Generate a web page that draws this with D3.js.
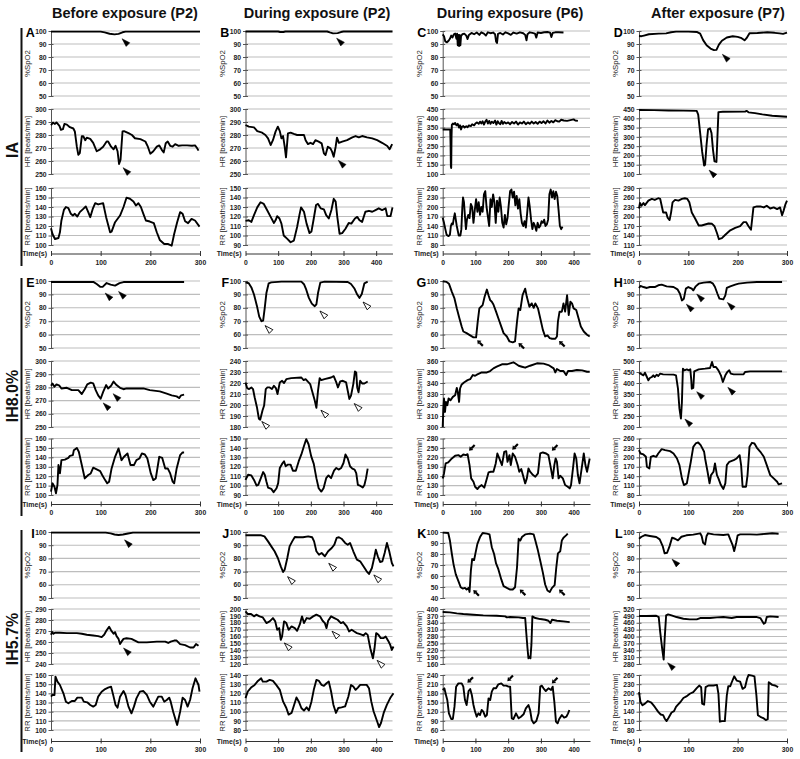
<!DOCTYPE html>
<html><head><meta charset="utf-8">
<script src="https://cdn.jsdelivr.net/npm/d3@7"></script>
<style>body{margin:0;background:#fff}svg{display:block;font-family:"Liberation Sans",Arial,sans-serif}</style>
</head><body>
<script>
// ---------- labels ----------
const columnTitles = ["Before exposure (P2)", "During exposure (P2)", "During exposure (P6)", "After exposure (P7)"];
const rowTitles = ["IA", "IH8.0%", "IH5.7%"];
const panelLetters = ["A","B","C","D","E","F","G","H","I","J","K","L"];
const subTitles = ["%SpO2", "HR [beats/min]", "RR [breaths/min]"];
const xMaxByColumn = [300, 450, 450, 300];
const xTicksByColumn = [[0,100,200,300],[0,100,200,300,400],[0,100,200,300,400],[0,100,200,300]];
// y axis [min, max, step] for SpO2, HR, RR of each panel
const yAxesA = [[50,100,10],[250,300,10],[100,160,10]];
const yAxesB = [[50,100,10],[250,300,10],[90,150,10]];
const yAxesC = [[50,100,10],[100,450,50],[80,260,30]];
const yAxesD = [[50,100,10],[100,450,50],[110,290,30]];
const yAxesE = [[50,100,10],[250,300,10],[100,160,10]];
const yAxesF = [[50,100,10],[180,240,10],[90,150,10]];
const yAxesG = [[50,100,10],[300,360,10],[100,280,30]];
const yAxesH = [[50,100,10],[200,500,50],[80,260,30]];
const yAxesI = [[50,100,10],[240,290,10],[100,160,10]];
const yAxesJ = [[50,100,10],[120,200,10],[80,140,10]];
const yAxesK = [[40,100,10],[160,400,30],[60,240,30]];
const yAxesL = [[50,100,10],[280,520,30],[80,260,30]];

// ---------- series [time s, value] ----------
const A_SpO2 = [[0,99.5],[100,99.5],[108,98.9],[118,97.9],[128,97.4],[136,97.8],[144,99],[150,99.5],[300,99.5]];
const A_HR = [[0,287.5],[4,289.5],[8,288.5],[11,289.7],[17,287],[20,284],[24,284.5],[27,288.5],[32,288],[38,286],[45,285],[48,282.7],[52,271],[55,264.8],[58,266],[62,279],[65,279],[69,276],[72,278],[79,277],[85,274],[92,267.5],[99,269],[105,271],[112,275],[115,275],[121,271],[126,269],[130,271.7],[134,267.5],[137,257.7],[140,261],[144,282.7],[147,283],[156,281.4],[163,280],[169,277.5],[180,276.8],[190,275],[195,271],[200,265.6],[206,267.5],[213,271],[218,272],[223,268.6],[227,266.6],[231,273.7],[235,275],[240,271.7],[245,271],[250,273],[257,271.7],[264,272],[274,272],[284,271.7],[290,272],[294,270],[297,268]];
const A_RR = [[0,117.6],[3,111.6],[8,106.3],[15,107.4],[18,113.4],[21,125.8],[26,137],[30,140],[35,138.8],[40,132.8],[44,131],[48,132.8],[53,130],[58,134.6],[65,138],[70,140.6],[75,134.6],[79,129.3],[84,138],[89,144],[95,142.7],[105,144],[111,129.3],[119,113.4],[122,114],[129,124],[139,131],[146,140],[152,149.8],[159,148.7],[166,145.9],[171,141.6],[176,144],[181,140],[186,132.8],[191,125.8],[199,124.7],[207,123],[213,113.4],[219,105.3],[228,101],[236,101],[243,99.3],[248,111.6],[254,124],[260,134.6],[265,132.8],[270,125],[276,123],[283,127.5],[290,125.8],[299,119.4]];

const B_SpO2 = [[0,99.6],[100,99.6],[106,99.2],[116,99.2],[122,99.6],[250,99.6],[258,98.9],[268,98.2],[282,98.4],[292,99.2],[300,99.6],[450,99.6]];
const B_HR = [[0,287.7],[10,286.4],[26,285.9],[36,283],[51,281.8],[61,280],[69,277.4],[77,272.3],[84,276],[92,282.6],[99,286.4],[105,283],[110,277.4],[115,279.2],[120,271],[124,262.8],[130,281.3],[138,281.8],[148,280.8],[158,280],[179,280],[184,276],[191,273],[199,274],[207,273],[214,276],[224,274.9],[233,273.6],[240,265.9],[245,264.6],[252,271],[260,269.7],[265,267.2],[270,263.3],[276,271],[280,278],[286,274],[296,274.9],[311,276],[327,278.2],[337,279.2],[347,278.2],[357,279.2],[372,278.2],[388,277.4],[403,276],[418,274],[434,271.5],[441,269],[449,273]];
const B_RR = [[0,115.4],[10,116],[18,114.3],[26,121.4],[36,129.6],[46,135],[56,133.2],[66,126.8],[77,119.6],[87,113.2],[92,116],[97,120.4],[104,117.9],[110,112.5],[117,100],[128,96.4],[138,92.9],[148,94.6],[158,108.9],[165,121.4],[170,129.6],[179,125],[187,112.5],[196,102.5],[202,104.3],[209,117.9],[216,132.1],[222,133.2],[230,128.6],[240,127.5],[247,121.4],[255,117.9],[263,126.8],[270,138.6],[276,135.7],[281,119.6],[288,101.8],[296,102.5],[306,107.1],[316,113.2],[324,112.5],[335,117.9],[342,119.6],[349,116],[357,114.3],[367,125],[378,126],[388,125],[398,126.8],[408,128.6],[418,126.8],[429,128.6],[434,120.4],[444,120.4],[450,129.6]];

const C_SpO2 = [[0,97.4],[4,96],[8,92],[13,91.3],[18,92.5],[22,94],[26,96.5],[30,95],[34,97.5],[38,98],[42,94],[44,98],[46,89],[48,97],[50,88.5],[52,97],[54,89],[56,96],[60,97.5],[66,98],[72,96.5],[76,93.8],[80,97],[88,98.5],[96,97.5],[104,98.8],[112,97],[118,99],[126,98],[132,96.5],[138,99],[146,98.3],[154,98.8],[160,97.5],[163,92],[166,90.8],[169,97.8],[176,98.5],[184,97.3],[192,99],[200,98.2],[208,97],[216,98.8],[226,98],[236,99],[246,98.3],[252,97],[256,92.8],[259,97.5],[266,99],[274,98.5],[282,98],[286,94.9],[290,98.8],[300,98.5],[310,99],[320,99.2],[328,98.8],[332,95.4],[336,98.5],[344,99],[354,99],[369,98.8]];
const C_HR = [[0,340],[23,340],[24,260],[25,140],[26,132],[27,300],[28,365],[31,372],[34,368],[38,375],[42,362],[46,370],[50,350],[53,362],[56,340],[59,355],[63,358],[67,350],[72,357],[76,352],[80,362],[86,358],[90,368],[96,362],[100,372],[105,378],[110,370],[114,382],[118,372],[122,384],[126,366],[130,382],[134,392],[138,372],[142,386],[146,370],[150,382],[155,374],[160,388],[164,366],[168,384],[172,374],[176,368],[180,386],[184,370],[188,380],[194,372],[200,378],[206,368],[212,380],[218,372],[224,382],[230,366],[236,378],[242,372],[248,382],[254,368],[260,378],[266,370],[272,382],[278,372],[284,380],[290,370],[296,382],[302,374],[308,384],[314,372],[320,388],[326,376],[332,386],[338,378],[344,390],[350,384],[356,382],[362,392],[370,388],[380,386],[390,390],[400,394],[405,388],[413,386]];
const C_RR = [[0,166],[4,150],[8,130],[12,112],[18,108],[22,112],[25,140],[28,148],[31,145],[34,165],[37,180],[40,160],[43,140],[46,125],[49,110],[54,110],[57,130],[60,200],[62,230],[65,215],[68,170],[71,130],[74,160],[78,175],[82,165],[86,210],[90,200],[94,150],[98,190],[102,225],[106,185],[110,215],[114,175],[118,200],[122,185],[126,240],[130,250],[134,200],[138,170],[142,140],[146,225],[150,200],[154,240],[158,215],[162,150],[166,220],[170,185],[174,230],[178,200],[182,150],[186,135],[190,175],[194,145],[198,165],[202,210],[206,250],[210,255],[214,230],[218,248],[222,205],[226,235],[230,195],[234,225],[238,180],[242,150],[246,140],[250,155],[254,135],[258,180],[262,230],[266,200],[270,160],[274,130],[278,150],[282,140],[286,125],[290,150],[294,135],[298,140],[302,155],[306,150],[310,160],[314,140],[318,145],[322,160],[326,240],[330,255],[334,230],[338,250],[342,225],[346,248],[350,235],[354,190],[358,140],[362,130],[366,138]];

const D_SpO2 = [[0,96.2],[5,96],[10,96.5],[20,97.5],[40,98],[55,98.2],[65,99],[75,99.5],[100,99.5],[118,99.2],[124,98],[130,93],[137,89],[145,86.5],[152,85.3],[157,85.5],[162,89.5],[168,92.5],[178,95],[190,96],[200,95.5],[208,94.5],[214,92.8],[218,94.5],[224,98.3],[240,98.5],[260,99],[275,98.6],[285,98.2],[292,97.8],[300,98.8]];
const D_HR = [[0,445],[30,444],[60,442],[90,441],[117,440],[120,420],[124,320],[128,220],[132,145],[134,150],[137,260],[140,340],[144,346],[147,320],[150,230],[153,168],[157,165],[159,300],[161,433],[170,435],[215,436],[218,440],[222,432],[235,428],[250,421],[270,414],[300,408]];
const D_RR = [[0,225.3],[2,242.6],[5,234],[9,242.6],[12,236],[19,250],[26,255.5],[32,252.3],[39,257.7],[43,255.5],[46,234],[49,212.4],[55,212.4],[58,196.2],[62,188.7],[65,212.4],[68,244.7],[73,252.3],[80,250],[87,255.5],[93,257.7],[98,255.5],[102,244.7],[107,212.4],[114,193],[121,171.5],[127,171.5],[134,174.7],[141,177.9],[148,176.9],[153,169.3],[158,147.8],[162,128.4],[168,131.6],[175,142.4],[185,156.4],[195,164],[205,169.3],[212,182.3],[217,182.3],[222,169.3],[227,158.5],[232,228.6],[239,231.8],[246,231.8],[253,228.6],[259,234],[266,225.3],[273,228.6],[280,223.2],[286,228.6],[290,203.9],[293,217.8],[297,239.3],[300,250]];

const E_SpO2 = [[0,99.2],[86,99.2],[92,97.8],[99,95.7],[104,95.6],[112,98.5],[120,97.3],[129,96.6],[138,98.4],[146,99.2],[268,99.2]];
const E_HR = [[0,281.3],[3,283],[7,280.5],[11,282.3],[17,281.3],[21,279.2],[32,279.7],[42,277.9],[55,277.9],[62,275],[68,278.6],[73,282.3],[80,283.6],[85,283],[90,277.9],[95,274],[100,271.4],[105,276.6],[111,281.8],[115,279.2],[121,281.3],[126,284.4],[132,281.8],[139,279.7],[146,278.6],[152,279.2],[186,279.2],[199,277.9],[219,277],[233,275.3],[243,274],[253,273.2],[258,271.9],[262,274],[268,274.5]];
const E_RR = [[0,103.5],[3,112.4],[7,108.8],[10,101.8],[13,110.6],[15,131.8],[18,123],[21,137],[28,137.6],[35,139.4],[38,141.6],[44,142.4],[46,147.6],[52,150],[56,145.9],[62,131.8],[68,117.6],[75,121.2],[80,122.9],[85,129],[92,127.2],[99,125.4],[103,121.2],[109,115.8],[113,112.4],[117,114.1],[122,128.2],[129,140.6],[136,149.4],[142,137],[147,140.6],[154,144.1],[160,131.8],[167,131.8],[172,137],[178,138.8],[183,144.1],[189,143],[194,138.8],[201,122.9],[206,115.8],[211,117.6],[218,140.6],[224,139.4],[230,128.2],[235,128.2],[240,122.9],[245,114.1],[248,112.4],[253,128.2],[260,142.4],[265,145.2],[268,145.2]];

const F_SpO2 = [[0,99],[10,98.3],[18,95.2],[26,89.9],[35,81.4],[42,73.4],[49,70],[54,70.5],[59,80.2],[64,91],[71,98.3],[79,99],[110,99.5],[171,99.5],[179,97.6],[186,93.5],[194,87.4],[203,83.1],[212,81.2],[217,82.6],[222,91],[229,98.8],[242,99.5],[313,99.3],[323,97.8],[334,94.2],[342,89.9],[349,87.4],[356,90.3],[364,98.3],[374,99.5]];
const F_HR = [[0,220.5],[5,215.4],[11,214.5],[18,216],[23,214.5],[28,207],[35,198],[41,187.5],[45,186.6],[52,195],[57,199.5],[62,214.5],[67,216],[74,216],[81,214.5],[87,217.5],[93,215.4],[98,210],[105,220.5],[112,222],[118,220],[125,223.5],[140,224.4],[171,225],[178,222.6],[184,223.5],[191,221.2],[198,219],[203,213.6],[212,204],[217,197.4],[222,213],[227,224.4],[232,222.6],[242,223.5],[262,225],[270,226.2],[278,220.5],[283,216],[290,221.5],[298,222],[308,220.5],[313,213],[318,205.5],[323,208.5],[330,219],[335,230.4],[339,229.5],[342,216],[346,211.5],[351,222],[357,219.6],[364,219.6],[374,221.4]];
const F_RR = [[0,106],[8,111.5],[18,110.8],[26,106],[34,100],[39,100.7],[47,107.9],[54,114.4],[59,111.5],[64,104.3],[69,97.9],[79,96.5],[86,92.9],[95,97.2],[100,102.6],[105,118.7],[112,123],[118,125.9],[123,120.5],[130,122.3],[138,122.3],[145,115.8],[154,115.8],[163,125.9],[171,133.1],[179,142],[186,149.3],[193,143.9],[201,131.3],[209,123],[217,107.9],[224,97.2],[232,93.6],[239,97.2],[247,107.9],[254,110.8],[262,107.9],[271,115.8],[278,118.7],[285,117],[293,118.7],[300,124],[306,133.1],[313,128.8],[320,120.5],[327,118],[334,117],[339,113.3],[344,100.7],[352,99.6],[359,97.9],[364,100.7],[369,107.9],[374,118]];

const G_SpO2 = [[0,99.8],[12,99.3],[19,98],[28,91.9],[36,87],[43,79.6],[51,72.2],[58,66],[63,62.3],[73,61.1],[84,59.4],[94,57.9],[102,57.9],[107,69.7],[112,79.6],[117,80.8],[122,82],[128,88.2],[135,93.6],[140,89.4],[145,85.7],[150,84.5],[155,82.5],[163,77.1],[170,72.2],[179,66],[186,61.1],[196,58.6],[204,54.9],[214,54.2],[221,54.9],[227,69.7],[232,79.6],[237,78.3],[244,89.4],[252,94.3],[257,88.2],[265,80.8],[272,83.3],[278,80],[283,83.3],[291,79.6],[298,72.2],[306,63.5],[313,58.6],[320,59.4],[327,57.4],[334,56.9],[344,56.9],[349,58.6],[352,69.7],[357,77.1],[364,77.1],[369,83.3],[374,77.1],[380,89.4],[385,74.6],[390,84.5],[395,83.3],[400,79.6],[408,78.3],[415,72.2],[422,66],[431,62.3],[441,59.9],[449,58.6]];
const G_HR = [[0,300],[2,316.7],[4,325.9],[7,313.7],[10,322.8],[14,319.8],[18,325.9],[24,324.3],[31,327.4],[38,328.9],[43,335.6],[46,332],[50,322.8],[53,335],[58,338.7],[65,340.5],[76,342.6],[84,343.5],[92,347.2],[99,346.6],[106,347.8],[119,349.6],[135,349.6],[145,350.9],[155,353.3],[165,354.8],[181,357],[196,357],[206,357.9],[216,358.8],[221,357.9],[232,355.7],[242,354.8],[252,353.9],[267,355.7],[288,357.9],[308,357.6],[323,356.3],[339,353.3],[344,349.6],[349,352.7],[359,350.9],[369,350.9],[377,347.2],[383,350.9],[395,350.9],[410,351.8],[426,351.5],[441,350.2],[449,350.2]];
const G_RR = [[0,152.9],[4,168.8],[9,200.6],[17,203.7],[28,216.4],[38,224.9],[48,227],[55,221.7],[63,229.1],[71,227],[76,230.2],[82,195.3],[87,152.9],[94,142.3],[99,126.4],[106,119],[112,126.4],[119,131.7],[127,123.3],[135,152.9],[140,172],[147,174.1],[155,174.1],[162,200.6],[167,232.3],[173,216.4],[181,195.3],[188,237.6],[194,239.7],[198,205.9],[204,227],[208,195.3],[214,232.3],[221,221.7],[229,195.3],[234,174.1],[240,182.6],[245,163.6],[252,137],[257,152.9],[262,184.7],[267,174.1],[276,163.6],[283,158.2],[291,168.8],[298,232.3],[306,235.5],[316,232.3],[323,227],[331,182.6],[336,152.9],[341,195.3],[345,216.4],[349,205.9],[354,152.9],[359,161.3],[367,152.9],[374,131.7],[382,126.4],[388,121.1],[392,131.7],[398,184.7],[403,232.3],[408,216.4],[413,163.6],[418,137],[426,195.3],[431,232.3],[436,195.3],[441,174.1],[449,216.4]];

const H_SpO2 = [[0,94.8],[3,96.3],[9,95.5],[16,94.8],[22,95.5],[32,95.5],[39,96.8],[46,97.3],[56,96],[70,95.5],[78,93.8],[83,90.5],[87,85.5],[91,86.8],[95,94.3],[100,95.5],[107,94.3],[110,93],[115,96],[121,98],[131,98.8],[144,99.3],[150,98],[154,95.5],[159,90.5],[163,86.8],[171,86.3],[175,89.3],[178,94.8],[185,96],[195,97.3],[202,98],[219,98.8],[239,99.3],[290,99.3]];
const H_HR = [[0,445.5],[3,442.4],[9,434.8],[12,447],[16,427.3],[19,412.1],[22,422.7],[26,427.3],[29,434.8],[32,427.3],[36,437.9],[39,431.8],[43,442.4],[49,439.4],[70,437.9],[75,434.8],[79,374.2],[82,283.3],[85,237.9],[87,313.6],[89,465.2],[92,457.6],[97,462.1],[101,457.6],[104,462.1],[106,412.1],[107,374.2],[110,377.3],[112,453],[121,462.1],[134,465.2],[144,468.2],[148,495.5],[151,472.7],[156,472.7],[161,457.6],[166,434.8],[170,404.5],[175,434.8],[179,450],[183,457.6],[186,442.4],[192,439.4],[202,439.4],[212,439.4],[215,450],[225,453],[239,453],[290,453]];
const H_RR = [[0,222.9],[3,212.3],[9,209.2],[14,201.7],[16,170],[21,164.7],[24,201.7],[29,204.9],[35,201.7],[39,212.3],[46,226.1],[53,222.9],[63,219.7],[70,212.3],[77,196.4],[82,175.3],[87,132.9],[91,111.7],[97,117],[100,143.5],[105,185.8],[110,233.5],[115,244.1],[120,247.3],[125,238.8],[132,217.6],[134,196.4],[139,154.1],[143,117],[146,143.5],[151,154.1],[154,180.6],[158,143.5],[161,132.9],[166,111.7],[171,99],[175,117],[178,175.3],[183,185.8],[192,191.1],[198,196.4],[204,207],[207,175.3],[210,106.4],[217,106.4],[220,143.5],[224,233.5],[229,246.2],[234,244.1],[239,230.3],[246,217.6],[253,201.7],[259,175.3],[266,143.5],[273,132.9],[280,122.3],[283,113.8],[290,117]];

const I_SpO2 = [[0,99.5],[110,99.5],[120,99],[128,98.1],[136,97.7],[145,98.1],[155,98.9],[165,99.5],[300,99.5]];
const I_HR = [[0,266.6],[2,269],[5,267.5],[8,268.4],[18,268.4],[32,268.1],[52,268.1],[62,267.5],[72,266.6],[85,265.9],[95,265.3],[102,264.4],[107,266.6],[112,270.6],[117,273.8],[121,270.6],[126,267.5],[129,269],[132,265.3],[136,262.8],[139,258.1],[142,260.3],[146,262.8],[152,263.4],[162,262.8],[169,261.3],[176,259.7],[193,259.7],[213,260.3],[230,260.3],[236,259.1],[241,260.3],[248,261.3],[253,261.3],[260,258.1],[270,257.2],[280,255],[287,255],[292,258.1],[297,256.6]];
const I_RR = [[0,136.4],[3,138.2],[7,138.2],[9,158.2],[13,152.7],[18,149.1],[25,140],[30,130.9],[35,129.1],[42,131.6],[48,131.6],[53,135.3],[62,135.3],[66,130.9],[73,130.2],[79,127.3],[85,125.5],[90,127.3],[95,136.4],[102,141.8],[109,144.7],[115,146.2],[121,147.3],[126,136.4],[130,127.3],[134,124.4],[139,136.4],[146,142.5],[150,138.2],[156,125.5],[162,118.2],[167,125.5],[172,134.5],[179,141.8],[186,142.5],[193,138.2],[199,130.9],[206,125.5],[211,130.9],[216,136.4],[223,136.4],[228,130.9],[233,132.7],[238,135.3],[241,130.9],[246,120],[252,109.1],[254,105.5],[260,120],[265,135.3],[270,132.7],[275,125.5],[280,132.7],[285,145.5],[291,156.4],[297,149.1],[299,141.8]];

const J_SpO2 = [[0,97.5],[48,97.5],[58,96.7],[69,92.9],[79,89.1],[89,85.4],[99,80.3],[108,74],[115,69.7],[120,71.5],[128,80.3],[135,89.1],[143,92.9],[151,96.2],[161,96],[176,96],[192,96.7],[204,96],[210,92.9],[217,85.4],[225,82.8],[233,84.1],[243,81.6],[253,85.4],[264,87.9],[272,90.4],[279,95.5],[286,96],[294,94.9],[305,91.7],[313,90.4],[320,91.7],[330,85.4],[341,79],[351,77.8],[361,74],[371,70.2],[378,68.2],[387,72.7],[395,81.6],[399,86.6],[405,81.6],[412,77.3],[419,77.8],[426,84.1],[433,91.7],[440,85.4],[448,76.5],[453,74]];
const J_HR = [[0,196.6],[7,192.7],[17,192.7],[26,189.3],[33,191.7],[43,189.3],[53,187.8],[64,179.5],[74,182],[84,186.8],[91,182],[97,169.8],[103,172.2],[108,155.1],[112,160],[118,182],[125,179.5],[132,169.8],[141,174.6],[151,172.2],[158,168.3],[166,177.1],[173,189.3],[179,179.5],[187,186.8],[197,185.9],[207,189.3],[217,191.7],[228,189.3],[236,182.9],[243,179.5],[248,172.2],[253,182.9],[262,189.3],[272,186.8],[282,184.4],[292,179.5],[299,181],[310,174.6],[317,167.3],[325,169.8],[333,167.3],[341,164.9],[351,163.4],[361,161.5],[368,164.9],[374,162.4],[382,142.9],[390,128.3],[395,142.9],[400,164.9],[407,162.4],[414,157.6],[422,157.6],[429,160],[438,152.7],[443,147.8],[448,140.5],[453,145.4]];
const J_RR = [[0,114.8],[7,122],[17,126.3],[28,129.2],[38,133.5],[48,136.4],[53,132.8],[64,132.8],[74,134.6],[84,133.5],[94,129.2],[105,123.8],[115,111.2],[125,104],[132,96.8],[141,98.6],[149,107.6],[156,115.5],[163,111.2],[171,104],[179,101.2],[187,104.7],[194,101.2],[202,111.2],[209,123.8],[217,134.6],[225,133.5],[233,129.2],[240,128.1],[248,131],[255,132.8],[262,122],[269,107.6],[277,98.6],[284,104],[294,104.7],[305,105.8],[315,116.6],[323,129.2],[330,127.4],[337,123.8],[344,126.3],[351,129.2],[361,129.2],[371,129.2],[378,125.6],[385,111.2],[392,100.4],[402,90.4],[409,83.2],[415,87.9],[423,98.6],[433,107.6],[443,114.8],[453,120.2]];

const K_SpO2 = [[0,99.4],[17,99.1],[22,92.3],[28,80],[33,70.8],[40,61.5],[48,55.4],[55,49.8],[61,48.6],[68,49.2],[73,47.7],[79,49.2],[82,45.5],[86,64.6],[90,75.4],[96,74.5],[100,80.6],[106,89.2],[114,95.4],[122,99.1],[135,98.5],[143,97.8],[150,86.2],[157,80],[163,71.4],[170,66.2],[179,56.9],[186,50.8],[196,49.2],[206,47.7],[214,47.7],[221,49.8],[227,67.7],[232,93.8],[237,92.3],[242,95.4],[252,97.8],[267,98.5],[278,97.8],[283,92.3],[291,83.1],[298,73.8],[306,63.1],[313,52.3],[320,46.8],[327,45.5],[334,49.2],[342,51.7],[347,67.7],[352,80.6],[359,82.5],[364,92.3],[369,94.8],[377,96.9],[382,98.5]];
const K_HR = [[0,386.8],[22,385.4],[43,381],[63,378],[94,375],[124,372.2],[165,370.7],[191,367.8],[196,363.4],[206,364.9],[232,363.4],[245,360.5],[252,360.5],[255,301.9],[259,228.7],[262,184.8],[265,192],[268,184.8],[271,243.3],[274,367.8],[283,360.5],[298,356.1],[313,353.1],[323,348.8],[329,338.5],[334,353.1],[349,348.8],[369,345.8],[388,342.9]];
const K_RR = [[0,190.9],[5,196.4],[10,174.6],[14,158.2],[19,114.6],[26,96],[31,96],[36,136.4],[41,201.8],[48,212.7],[58,212.7],[63,201.8],[68,158.2],[73,141.8],[79,187.6],[84,194.2],[89,174.6],[94,141.8],[99,120],[104,103.6],[109,114.6],[114,109.1],[119,125.5],[124,120],[130,103.6],[135,109.1],[140,163.6],[145,158.2],[150,185.5],[155,196.4],[163,196.4],[170,209.5],[179,212.7],[186,205.1],[194,205.1],[201,201.8],[206,201.8],[211,98.2],[216,96],[224,114.6],[232,98.2],[239,103.6],[247,111.3],[254,130.9],[262,141.8],[267,125.5],[272,92.7],[278,81.8],[286,89.5],[293,114.6],[298,201.8],[303,205.1],[308,196.4],[315,187.6],[323,196.4],[331,190.9],[336,201.8],[341,152.7],[346,87.3],[351,81.8],[356,96],[364,109.1],[371,100.4],[378,103.6],[383,114.6],[387,125.5]];

const L_SpO2 = [[0,94.9],[5,96.4],[12,97.7],[22,97],[35,96.2],[42,94.4],[48,89.3],[52,83.8],[57,84.3],[62,89.3],[67,95.7],[73,94.9],[79,93.7],[86,96.4],[96,97.5],[110,98],[124,99],[127,97],[130,91.9],[134,90.6],[137,97],[140,99],[151,98.2],[171,97.7],[181,98.2],[185,94.4],[190,89.8],[193,85.5],[197,91.9],[200,97.5],[205,98.2],[225,98.2],[239,98],[259,98.7],[270,99],[283,98.7]];
const L_HR = [[0,489.3],[15,489.3],[35,490.7],[40,484.9],[43,419],[47,345.8],[50,299],[52,389.8],[55,492.2],[59,496.6],[66,492.2],[76,484.9],[90,477.6],[103,474.6],[117,474.6],[124,480.5],[144,480.5],[158,483.4],[171,484.9],[188,480.5],[198,484.9],[219,484.9],[239,484.9],[246,480.5],[249,470.2],[253,455.6],[256,460],[259,484.9],[266,487.8],[283,484.9]];
const L_RR = [[0,204],[3,171.6],[7,160.9],[12,166.3],[18,174.9],[25,169.5],[32,155.5],[39,139.3],[44,130.7],[49,128.5],[52,117.8],[56,109.2],[60,119.9],[66,137.2],[71,141.5],[75,155.5],[79,163],[84,171.6],[90,184.6],[96,190],[103,198.6],[110,204],[117,216.9],[122,225.5],[126,220.1],[128,166.3],[132,163],[135,220.1],[141,225.5],[151,225.5],[158,227.7],[161,198.6],[164,107.1],[168,109.2],[174,109.2],[178,193.2],[181,223.4],[185,223.4],[188,236.3],[193,255.7],[198,241.7],[205,238.4],[210,214.7],[215,220.1],[219,247.1],[222,260],[229,257.8],[234,255.7],[238,193.2],[241,128.5],[246,123.1],[253,117.8],[257,112.4],[261,115.6],[263,236.3],[270,227.7],[276,225.5],[282,220.1]];

// ---------- annotations [subplot, time, value, style] ----------
const arrowsA = [[0,149,91.8,"filled"],[1,151,252.6,"filled"]];
const arrowsB = [[0,288,92.2,"filled"],[1,293,258.2,"filled"]];
const arrowsC = [];
const arrowsD = [[0,175,79.8,"filled"],[1,148,105,"filled"]];
const arrowsE = [[0,115,88.8,"filled"],[0,142,90,"filled"],[1,111,266,"filled"],[1,131,273,"filled"]];
const arrowsF = [[0,69,64.5,"open"],[0,237,75.4,"open"],[0,369,82.1,"open"],[1,59,182.3,"open"],[1,240,192.6,"open"],[1,342,198.6,"open"]];
const arrowsG = [[0,114,53.7,"boldUp"],[0,240,51.7,"boldUp"],[0,364,53.2,"boldUp"],[2,89,250.3,"boldDown"],[2,221,253.4,"boldDown"],[2,342,250.3,"boldDown"]];
const arrowsH = [[0,102,80.5,"filled"],[0,123,88,"filled"],[0,185,81.8,"filled"],[1,99,222.7,"filled"],[1,123,347,"filled"],[1,186,366.7,"filled"]];
const arrowsI = [[0,154,91.8,"filled"],[1,152,251.9,"filled"]];
const arrowsJ = [[0,138,63.9,"open"],[0,264,74,"open"],[0,402,65.2,"open"],[1,128,146.3,"open"],[1,274,163.4,"open"],[1,412,121,"open"]];
const arrowsK = [[0,102,44.6,"boldUp"],[0,244,45.2,"boldUp"],[0,364,45.2,"boldUp"],[2,84,223.6,"boldDown"],[2,206,229,"boldDown"],[2,342,221.5,"boldDown"]];
const arrowsL = [[0,73,77.2,"filled"],[1,64,272.5,"filled"]];

// ---------- assemble ----------
const panelSeries = [
  [A_SpO2,A_HR,A_RR],[B_SpO2,B_HR,B_RR],[C_SpO2,C_HR,C_RR],[D_SpO2,D_HR,D_RR],
  [E_SpO2,E_HR,E_RR],[F_SpO2,F_HR,F_RR],[G_SpO2,G_HR,G_RR],[H_SpO2,H_HR,H_RR],
  [I_SpO2,I_HR,I_RR],[J_SpO2,J_HR,J_RR],[K_SpO2,K_HR,K_RR],[L_SpO2,L_HR,L_RR]];
const panelAxes = [yAxesA,yAxesB,yAxesC,yAxesD,yAxesE,yAxesF,yAxesG,yAxesH,yAxesI,yAxesJ,yAxesK,yAxesL];
const panelArrows = [arrowsA,arrowsB,arrowsC,arrowsD,arrowsE,arrowsF,arrowsG,arrowsH,arrowsI,arrowsJ,arrowsK,arrowsL];

// ---------- layout ----------
const W = 800, H = 759;
const colRange = [[51,200],[245.5,392.5],[442.7,590],[639,787]];
const rowLayout = [
  {sub:[[31,96],[109,174],[188,245]], time:253.5, bar:[28,266], label:150},
  {sub:[[281,348],[361,427],[438.5,495]], time:504, bar:[278,516], label:396},
  {sub:[[532,598],[609,664],[675,730]], time:741, bar:[530,752], label:639}];
const headerX = [125, 317, 510, 718];
const FONT = "'Liberation Sans',Arial,sans-serif";

const svg = d3.select("body").append("svg").attr("width", W).attr("height", H);

columnTitles.forEach((t,i)=>{
  svg.append("text").attr("x", headerX[i]).attr("y", 18).attr("text-anchor","middle")
    .attr("font-size", 14.5).attr("font-weight","bold").attr("fill","#111").text(t);
});
rowLayout.forEach((r,i)=>{
  svg.append("line").attr("x1",21.5).attr("x2",21.5).attr("y1",r.bar[0]).attr("y2",r.bar[1])
    .attr("stroke","#111").attr("stroke-width",2);
  svg.append("text").attr("transform",`translate(18,${r.label}) rotate(-90)`).attr("text-anchor","middle")
    .attr("font-size",16).attr("font-weight","bold").attr("fill","#111").text(rowTitles[i]);
});

function drawArrow(g, cx, cy, style){
  const s = Math.SQRT1_2;
  if(style==="filled" || style==="open"){
    const dx=-s, dy=-s, nx=s, ny=-s;
    const L=4.2, Wd=2.6;
    const tip=[cx+dx*L, cy+dy*L];
    const b1=[cx-dx*L+nx*Wd, cy-dy*L+ny*Wd], b2=[cx-dx*L-nx*Wd, cy-dy*L-ny*Wd];
    g.append("path").attr("d", `M${tip}L${b1}L${b2}Z`)
      .attr("fill", style==="filled" ? "#000" : "#fff").attr("stroke","#000")
      .attr("stroke-width", style==="filled" ? 0.5 : 0.9).attr("stroke-linejoin","round");
  } else {
    const dx = -s, dy = style==="boldUp" ? -s : s;
    const nx = -dy, ny = dx;
    const tip=[cx+dx*4, cy+dy*4];
    const hb=[cx+dx*0.5, cy+dy*0.5];
    g.append("line").attr("x1",cx-dx*4).attr("y1",cy-dy*4).attr("x2",hb[0]).attr("y2",hb[1])
      .attr("stroke","#000").attr("stroke-width",2.2);
    g.append("path").attr("d",`M${tip}L${[hb[0]+nx*2.6,hb[1]+ny*2.6]}L${[hb[0]-nx*2.6,hb[1]-ny*2.6]}Z`).attr("fill","#000");
  }
}

panelSeries.forEach((series, p)=>{
  const col = p % 4, row = Math.floor(p / 4);
  const [x0, x1] = colRange[col];
  const R = rowLayout[row];
  const x = d3.scaleLinear().domain([0, xMaxByColumn[col]]).range([x0, x1]);
  const g = svg.append("g");
  const ys = [];
  let topLabelWidth = 12;
  series.forEach((data, k)=>{
    const [ymin, ymax, step] = panelAxes[p][k];
    const [top, bottom] = R.sub[k];
    const y = d3.scaleLinear().domain([ymin, ymax]).range([bottom, top]);
    ys.push(y);
    const ticks = d3.range(ymin, ymax + step/2, step);
    g.append("g").selectAll("line").data(ticks).join("line")
      .attr("x1", x0).attr("x2", x1).attr("y1", d=>y(d)).attr("y2", d=>y(d))
      .attr("stroke", "#bdbdbd").attr("stroke-width", 1.1);
    const ax = g.append("g").attr("transform", `translate(${x0},0)`)
      .call(d3.axisLeft(y).tickValues(ticks).tickSize(2.5).tickSizeOuter(0).tickPadding(2));
    ax.select(".domain").attr("stroke","#555");
    ax.selectAll(".tick line").attr("stroke","#555").attr("x2", 2.5).attr("x1",-2.5);
    ax.selectAll("text").attr("font-size", 6.8).attr("font-weight","bold").attr("fill","#222")
      .attr("font-family", FONT);
    if(k===0){
      const topText = ax.selectAll(".tick text").filter(d=>d===ymax).node();
      if(topText) topLabelWidth = topText.getComputedTextLength();
    }
    g.append("text").attr("transform", `translate(${x0-21},${(top+bottom)/2}) rotate(-90)`)
      .attr("text-anchor","middle").attr("font-size",7.8).attr("fill","#222").text(subTitles[k]);
    g.append("path").datum(data)
      .attr("d", d3.line().x(d=>x(d[0])).y(d=>y(d[1])))
      .attr("fill","none").attr("stroke","#000").attr("stroke-width",1.9)
      .attr("stroke-linejoin","round");
  });
  // time axis
  const tx = g.append("g").attr("transform", `translate(0,${R.time})`)
    .call(d3.axisBottom(x).tickValues(xTicksByColumn[col]).tickSize(2.5).tickSizeOuter(0).tickPadding(4));
  tx.select(".domain").attr("stroke","#333");
  tx.selectAll(".tick line").attr("stroke","#333").attr("y1",-2.5);
  tx.selectAll("text").attr("font-size",6.8).attr("font-weight","bold").attr("fill","#222")
    .attr("font-family", FONT);
  g.append("text").attr("x", x0-4).attr("y", R.time+2.5).attr("text-anchor","end")
    .attr("font-size",7).attr("font-weight","bold").attr("fill","#222").text("Time(s)");
  // panel letter, just left of the top tick label
  g.append("text").attr("x", x0 - 4.5 - topLabelWidth - 0.5).attr("y", R.sub[0][0]+5.5)
    .attr("text-anchor","end").attr("font-size",12.5)
    .attr("font-weight","bold").attr("fill","#000").text(panelLetters[p]);
  // arrows
  panelArrows[p].forEach(a=>{
    drawArrow(g, x(a[1]), ys[a[0]](a[2]), a[3]);
  });
});
</script>
</body></html>
